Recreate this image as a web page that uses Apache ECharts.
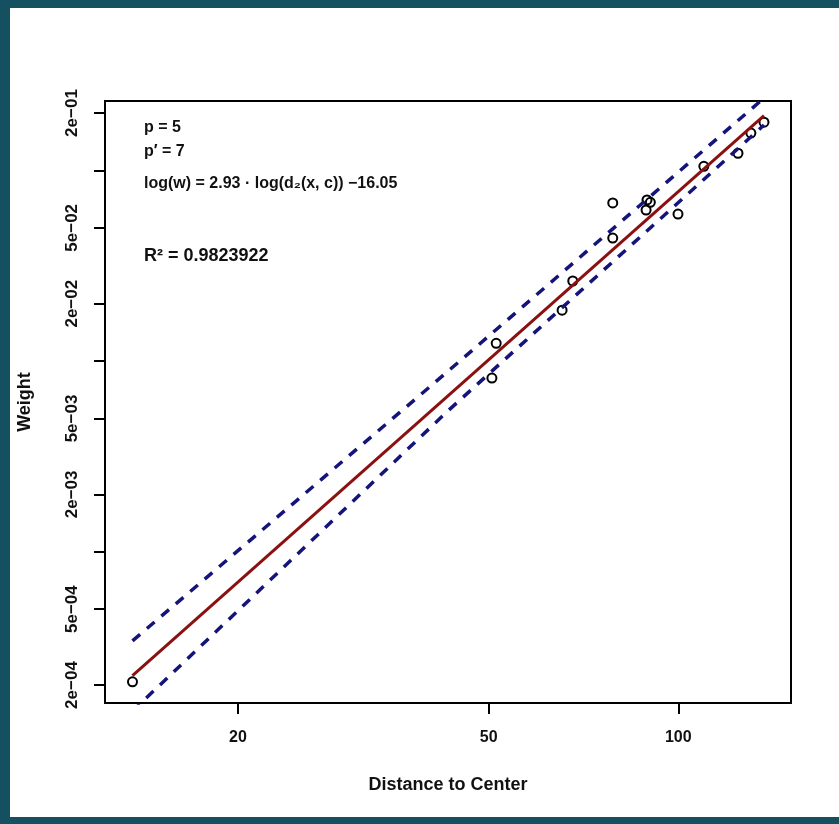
<!DOCTYPE html>
<html>
<head>
<meta charset="utf-8">
<script src="https://cdn.jsdelivr.net/npm/echarts@6/dist/echarts.min.js"></script>
<style>
  html, body { margin: 0; padding: 0; background: #fff; }
  #wrap { position: relative; width: 839px; height: 824px; overflow: hidden; }
  #chart { position: absolute; left: 0; top: 0; width: 839px; height: 824px; }
  .band { position: absolute; background: #14505f; }
</style>
</head>
<body>
<div id="wrap">
  <div id="chart"></div>
  <div class="band" style="left:0;top:0;width:839px;height:8px"></div>
  <div class="band" style="left:0;top:0;width:10px;height:824px"></div>
  <div class="band" style="left:0;top:817px;width:839px;height:7px"></div>
</div>
<script>
// observed points (distance, weight)
var dist   = [13.6, 50.6, 51.4, 65.4, 68.0, 78.7, 78.7, 89.2, 90.3, 88.9, 99.9, 109.8, 124.4, 130.4, 136.8];
var weight = [2.08e-4, 8.15e-3, 1.24e-2, 1.85e-2, 2.63e-2, 4.42e-2, 6.75e-2, 7.0e-2, 6.8e-2, 6.2e-2, 5.9e-2, 1.05e-1, 1.23e-1, 1.57e-1, 1.79e-1];

// fitted line and interval bands
var fitX   = [13.6, 136.8];
var fitY   = [2.24e-4, 0.194];
var upperX = [13.6, 45.0, 136.8];
var upperY = [3.41e-4, 1.0e-2, 0.2396];
var lowerX = [13.6, 42.9, 136.8];
var lowerY = [1.46e-4, 5.41e-3, 0.173];

// axes
var xRange = [12.3, 151];
var yRange = [1.61e-4, 0.2312];
var xTicks = [20, 50, 100];
var xTickLabels = ['20', '50', '100'];
var yTicks = [2e-4, 5e-4, 1e-3, 2e-3, 5e-3, 1e-2, 2e-2, 5e-2, 1e-1, 2e-1];
var yLabelVals = [2e-4, 5e-4, 2e-3, 5e-3, 2e-2, 5e-2, 2e-1];
var yLabelText = ['2e\u221204', '5e\u221204', '2e\u221203', '5e\u221203', '2e\u221202', '5e\u221202', '2e\u221201'];

var L = Math.log10;
function pairs(xs, ys) {
  return xs.map(function(x, i) { return [L(x), L(ys[i])]; });
}
function lookup(vals, texts, v) {
  for (var i = 0; i < vals.length; i++) {
    if (Math.abs(L(vals[i]) - v) < 1e-6) return texts[i];
  }
  return '';
}

var FONT = 'Liberation Sans, Arial, Helvetica, sans-serif';
var chart = echarts.init(document.getElementById('chart'), null, { renderer: 'canvas' });

chart.setOption({
  animation: false,
  backgroundColor: 'transparent',
  grid: {
    left: 105, top: 101, width: 686, height: 602,
    show: true, borderColor: '#000', borderWidth: 2, backgroundColor: 'transparent',
    outerBoundsMode: 'none'
  },
  xAxis: {
    type: 'value',
    min: L(xRange[0]), max: L(xRange[1]),
    name: 'Distance to Center', nameLocation: 'middle', nameGap: 73,
    nameTextStyle: { fontFamily: FONT, fontSize: 18, fontWeight: 'bold', color: '#111' },
    axisLine: { show: false },
    splitLine: { show: false },
    axisTick: { show: true, inside: false, length: 11, customValues: xTicks.map(L),
                lineStyle: { color: '#000', width: 2 } },
    axisLabel: {
      customValues: xTicks.map(L), margin: 27,
      fontFamily: FONT, fontSize: 16, fontWeight: 'bold', color: '#111',
      formatter: function(v) { return lookup(xTicks, xTickLabels, v); }
    }
  },
  yAxis: {
    type: 'value',
    min: L(yRange[0]), max: L(yRange[1]),
    name: 'Weight', nameLocation: 'middle', nameGap: 71, nameRotate: 90,
    nameTextStyle: { fontFamily: FONT, fontSize: 18, fontWeight: 'bold', color: '#111' },
    axisLine: { show: false },
    splitLine: { show: false },
    axisTick: { show: true, inside: false, length: 11, customValues: yTicks.map(L),
                lineStyle: { color: '#000', width: 2 } },
    axisLabel: {
      customValues: yLabelVals.map(L), margin: 24, rotate: 90,
      fontFamily: FONT, fontSize: 17, fontWeight: 'bold', color: '#111',
      formatter: function(v) { return lookup(yLabelVals, yLabelText, v); }
    }
  },
  graphic: [
    { type: 'text', x: 144, y: 128, style: { text: 'p = 5', font: 'bold 16px ' + FONT, fill: '#111', verticalAlign: 'middle' } },
    { type: 'text', x: 144, y: 152, style: { text: 'p\u2032 = 7', font: 'bold 16px ' + FONT, fill: '#111', verticalAlign: 'middle' } },
    { type: 'text', x: 144, y: 184, style: { text: 'log(w) = 2.93 \u00b7 log(d\u2082(x, c)) \u221216.05', font: 'bold 16px ' + FONT, fill: '#111', verticalAlign: 'middle' } },
    { type: 'text', x: 144, y: 256, style: { text: 'R\u00b2 = 0.9823922', font: 'bold 18px ' + FONT, fill: '#111', verticalAlign: 'middle' } }
  ],
  series: [
    {
      type: 'scatter', data: pairs(dist, weight), z: 2,
      symbol: 'circle', symbolSize: 9,
      itemStyle: { color: 'rgba(0,0,0,0)', borderColor: '#000', borderWidth: 2, opacity: 1 }
    },
    {
      type: 'line', data: pairs(fitX, fitY), z: 3, symbol: 'none', clip: true,
      lineStyle: { color: '#8b1010', width: 3 }
    },
    {
      type: 'line', data: pairs(upperX, upperY), z: 3, symbol: 'none', clip: true,
      lineStyle: { color: '#14147a', width: 3.5, type: [10, 9], cap: 'butt' }
    },
    {
      type: 'line', data: pairs(lowerX, lowerY), z: 3, symbol: 'none', clip: true,
      lineStyle: { color: '#14147a', width: 3.5, type: [10, 9], cap: 'butt' }
    }
  ]
});
</script>
</body>
</html>
